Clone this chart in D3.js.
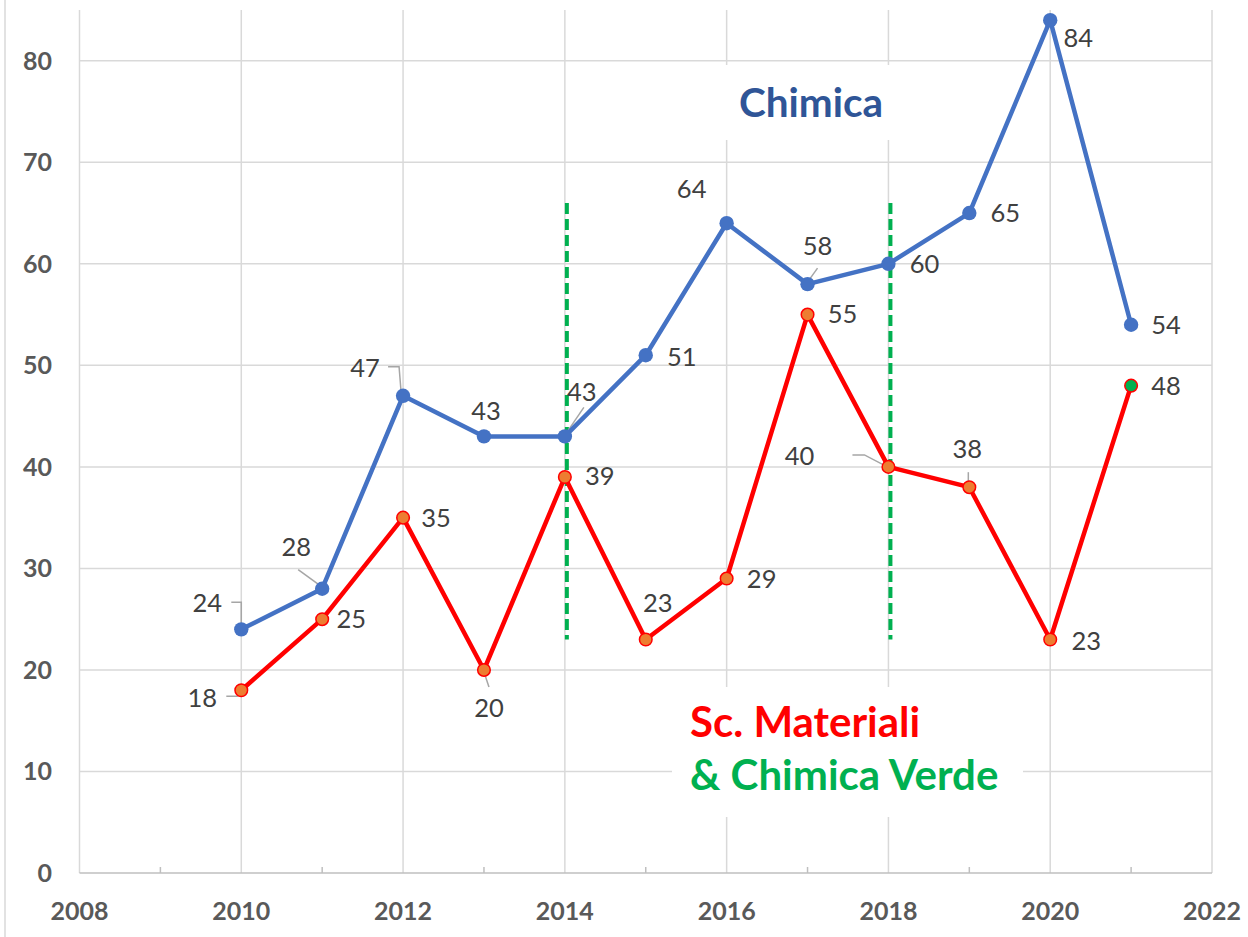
<!DOCTYPE html>
<html>
<head>
<meta charset="utf-8">
<script src="https://cdn.jsdelivr.net/npm/d3@7"></script>
<style>
  html, body { margin: 0; padding: 0; background: #fff; }
  svg { display: block; font-family: Lato, "Open Sans", sans-serif; }
</style>
</head>
<body>
<svg id="chart" width="1248" height="937"></svg>
<script>
// dati
const years = [2010, 2011, 2012, 2013, 2014, 2015, 2016, 2017, 2018, 2019, 2020, 2021];
const chimica = [24, 28, 47, 43, 43, 51, 64, 58, 60, 65, 84, 54];
const materiali = [18, 25, 35, 20, 39, 23, 29, 55, 40, 38, 23, 48];
const xTicks = [2008, 2010, 2012, 2014, 2016, 2018, 2020, 2022];
const xMinorTicks = [2009, 2011, 2013, 2015, 2017, 2019, 2021];
const yTicks = [0, 10, 20, 30, 40, 50, 60, 70, 80];
const dividerYears = [2014, 2018];
const dividerRange = [23, 66];

// posizione etichette (offset dal punto, px) e linee guida
const chimicaLabelPos = [
  { dx: -34, dy: -27, leader: [[-10, -27], [0, -27], [0, -5]] },
  { dx: -26, dy: -42, leader: [[-24, -19], [-2, -3]] },
  { dx: -38, dy: -28, leader: [[-15, -29], [-4, -29], [-2, -4]] },
  { dx: 2, dy: -26 },
  { dx: 17, dy: -45, leader: [[19, -29], [2, -4]] },
  { dx: 36, dy: 2 },
  { dx: -35, dy: -34 },
  { dx: 10, dy: -38, leader: [[10, -16], [0, -2]] },
  { dx: 36, dy: 0 },
  { dx: 36, dy: 0 },
  { dx: 28, dy: 18 },
  { dx: 35, dy: 0 }
];
const materialiLabelPos = [
  { dx: -39, dy: 8, leader: [[-15, 6], [-4, 6], [-1, 2]] },
  { dx: 29, dy: 0 },
  { dx: 33, dy: 0 },
  { dx: 5, dy: 38, leader: [[1, 5], [5, 17]] },
  { dx: 35, dy: -1 },
  { dx: 12, dy: -37 },
  { dx: 35, dy: 0 },
  { dx: 35, dy: -1 },
  { dx: -89, dy: -11, leader: [[-36, -12], [-24, -12], [-3, -1]] },
  { dx: -2, dy: -38, leader: [[-1, -15], [-1, -3]] },
  { dx: 36, dy: 1 },
  { dx: 35, dy: 0 }
];

const svg = d3.select("#chart");
const x = d3.scaleLinear().domain([2008, 2022]).range([79.5, 1212]);
const y = d3.scaleLinear().domain([0, 85]).range([873, 10]);

const gridColor = "#d9d9d9";
const tickColor = "#595959";
const labelColor = "#404040";

// bordo del grafico
svg.append("line").attr("x1", 5).attr("x2", 5).attr("y1", 0).attr("y2", 937)
  .attr("stroke", gridColor).attr("stroke-width", 1.5);

// griglia
svg.append("g").selectAll("line").data(yTicks.filter(d => d > 0)).join("line")
  .attr("x1", x(2008)).attr("x2", x(2022))
  .attr("y1", d => y(d)).attr("y2", d => y(d))
  .attr("stroke", gridColor).attr("stroke-width", 1.5);
svg.append("g").selectAll("line").data(xTicks).join("line")
  .attr("x1", d => x(d)).attr("x2", d => x(d))
  .attr("y1", y(0)).attr("y2", y(85))
  .attr("stroke", gridColor).attr("stroke-width", 1.5);

// asse x
const xAxis = svg.append("g").attr("transform", `translate(0,${y(0)})`);
xAxis.append("line").attr("x1", x(2008)).attr("x2", x(2022))
  .attr("stroke", "#bfbfbf").attr("stroke-width", 1.5);
xAxis.selectAll("line.minor").data(xMinorTicks).join("line").attr("class", "minor")
  .attr("x1", d => x(d)).attr("x2", d => x(d)).attr("y1", 0).attr("y2", -6)
  .attr("stroke", "#bfbfbf").attr("stroke-width", 1.5);
xAxis.selectAll("text").data(xTicks).join("text")
  .attr("x", d => x(d)).attr("y", 47)
  .attr("text-anchor", "middle")
  .attr("fill", tickColor).attr("font-weight", 700).attr("font-size", 25)
  .text(d => d);

// asse y
svg.append("g").selectAll("text").data(yTicks).join("text")
  .attr("x", 52).attr("y", d => y(d))
  .attr("dy", "0.36em")
  .attr("text-anchor", "end")
  .attr("fill", tickColor).attr("font-weight", 700).attr("font-size", 25)
  .text(d => d);

// riquadri di testo (sfondo bianco)
svg.append("rect").attr("x", 722).attr("y", 65).attr("width", 176).attr("height", 75).attr("fill", "#fff");
svg.append("rect").attr("x", 672).attr("y", 687).attr("width", 351).attr("height", 130).attr("fill", "#fff");

// linee verticali tratteggiate
svg.append("g").selectAll("line").data(dividerYears).join("line")
  .attr("x1", d => x(d) + 2).attr("x2", d => x(d) + 2)
  .attr("y1", y(dividerRange[1])).attr("y2", y(dividerRange[0]))
  .attr("stroke", "#00b050").attr("stroke-width", 4)
  .attr("stroke-dasharray", "11,5");

const line = d3.line().x(d => x(d[0])).y(d => y(d[1]));
const chimicaPts = years.map((yr, i) => [yr, chimica[i]]);
const materialiPts = years.map((yr, i) => [yr, materiali[i]]);

function drawLeaders(pts, pos) {
  svg.append("g").selectAll("path").data(pts.filter((d, i) => pos[i].leader))
    .join("path")
    .attr("d", d => {
      const p = pos[pts.indexOf(d)];
      return "M" + p.leader.map(q => [x(d[0]) + q[0], y(d[1]) + q[1]].join(",")).join("L");
    })
    .attr("fill", "none").attr("stroke", "#a6a6a6").attr("stroke-width", 1.5);
}
drawLeaders(chimicaPts, chimicaLabelPos);
drawLeaders(materialiPts, materialiLabelPos);

// serie Chimica
svg.append("path").datum(chimicaPts).attr("d", line)
  .attr("fill", "none").attr("stroke", "#4472c4").attr("stroke-width", 4.5)
  .attr("stroke-linejoin", "round");
svg.append("g").selectAll("circle").data(chimicaPts).join("circle")
  .attr("cx", d => x(d[0])).attr("cy", d => y(d[1])).attr("r", 7.2)
  .attr("fill", "#4472c4");

// serie Materiali
svg.append("path").datum(materialiPts).attr("d", line)
  .attr("fill", "none").attr("stroke", "#ff0000").attr("stroke-width", 4.5)
  .attr("stroke-linejoin", "round");
svg.append("g").selectAll("circle").data(materialiPts).join("circle")
  .attr("cx", d => x(d[0])).attr("cy", d => y(d[1])).attr("r", 6.3)
  .attr("fill", (d, i) => i === materialiPts.length - 1 ? "#00b050" : "#ed7d31")
  .attr("stroke", "#ff0000").attr("stroke-width", 1.5);

// etichette dati
function drawLabels(pts, pos) {
  svg.append("g").selectAll("text").data(pts).join("text")
    .attr("x", (d, i) => x(d[0]) + pos[i].dx)
    .attr("y", (d, i) => y(d[1]) + pos[i].dy)
    .attr("dy", "0.36em")
    .attr("text-anchor", "middle")
    .attr("fill", labelColor).attr("font-size", 25.5)
    .text(d => d[1]);
}
drawLabels(chimicaPts, chimicaLabelPos);
drawLabels(materialiPts, materialiLabelPos);

// titoli serie
svg.append("text").attr("x", 811).attr("y", 117)
  .attr("text-anchor", "middle")
  .attr("fill", "#2f5597").attr("font-weight", 700).attr("font-size", 40.5)
  .text("Chimica");
svg.append("text").attr("x", 690).attr("y", 737)
  .attr("fill", "#ff0000").attr("font-weight", 700).attr("font-size", 42)
  .text("Sc. Materiali");
svg.append("text").attr("x", 690).attr("y", 790)
  .attr("fill", "#00b050").attr("font-weight", 700).attr("font-size", 42)
  .text("& Chimica Verde");
</script>
</body>
</html>
